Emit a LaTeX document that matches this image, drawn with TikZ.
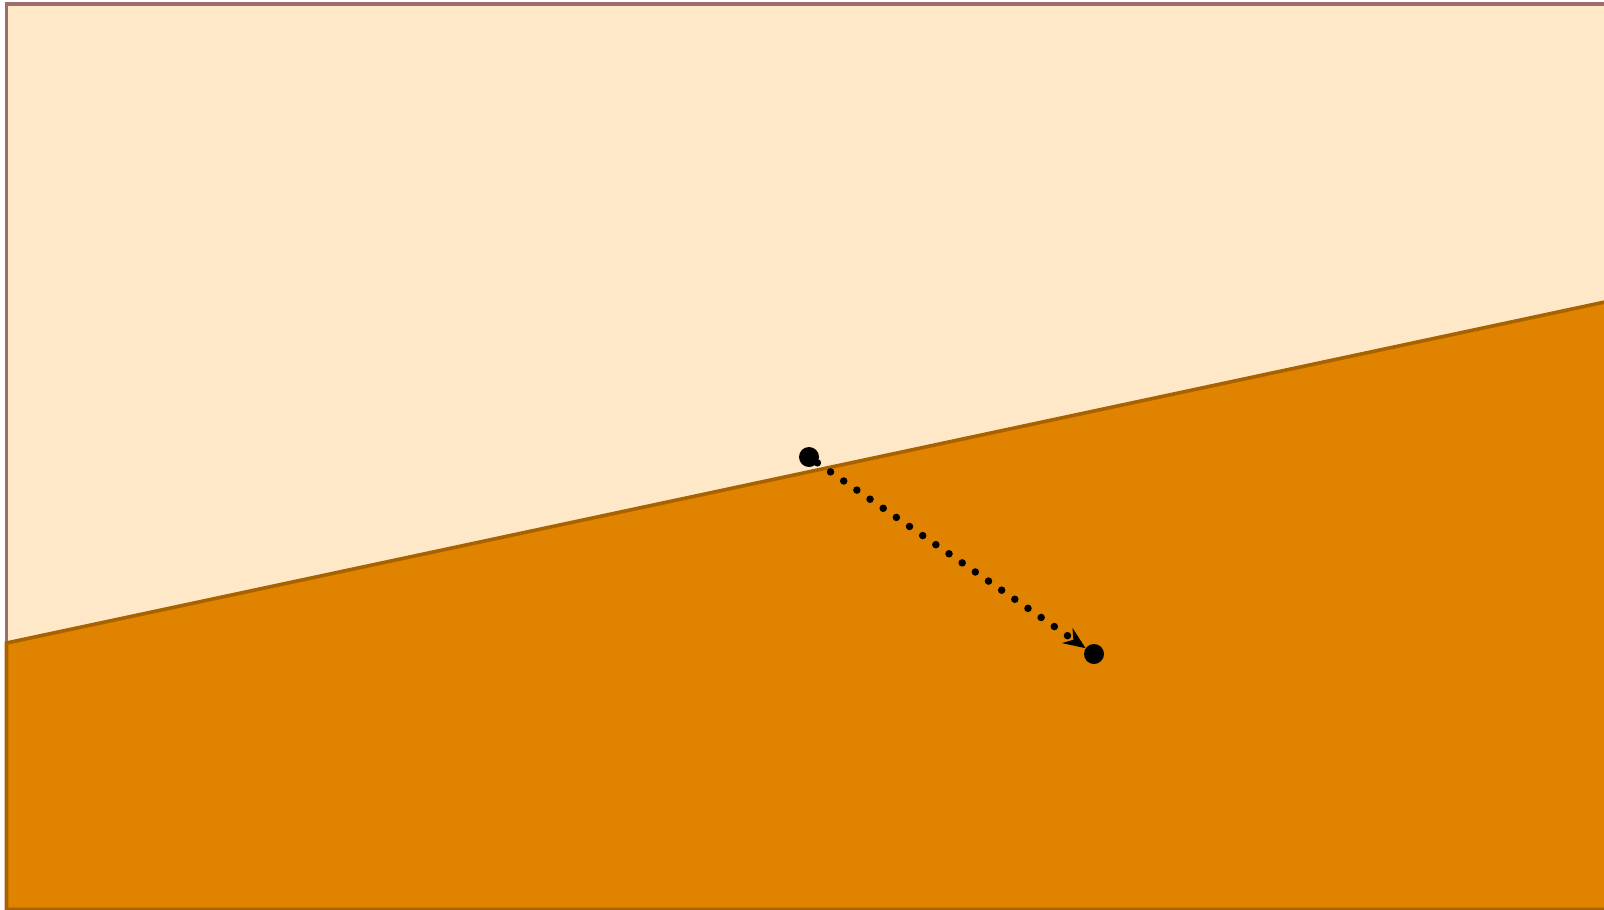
\documentclass[tikz,border=0pt]{standalone}
\usetikzlibrary{arrows.meta}
\definecolor{paleorange}{HTML}{FFE8C8}
\definecolor{framerose}{HTML}{9C6E6E}
\definecolor{groundfill}{HTML}{DF8300}
\definecolor{groundline}{HTML}{A86200}
\tikzset{
  dotnode/.style={circle,fill=black,inner sep=0pt,minimum size=20pt},
  dottedarrow/.style={line width=7.5pt,dash pattern=on 0pt off 16pt,line cap=round,
    -{Stealth[length=22pt,width=18pt,line cap=butt,line join=miter]}},
}
\begin{document}
\begin{tikzpicture}[x=1pt,y=-1pt]
\useasboundingbox (0,0) rectangle (1604,910);
\clip (0,0) rectangle (1604,910);
\draw[framerose,line width=3.2pt,fill=paleorange] (6.5,4) rectangle (1640,940);
\draw[groundline,line width=3.6pt,fill=groundfill] (6.5,643) -- (1640,294.5) -- (1640,909.5) -- (6.5,909.5) -- cycle;
\node[dotnode] (a) at (809,457) {};
\node[dotnode] (b) at (1094,654) {};
\draw[dottedarrow] (a) -- (b);
\end{tikzpicture}
\end{document}
